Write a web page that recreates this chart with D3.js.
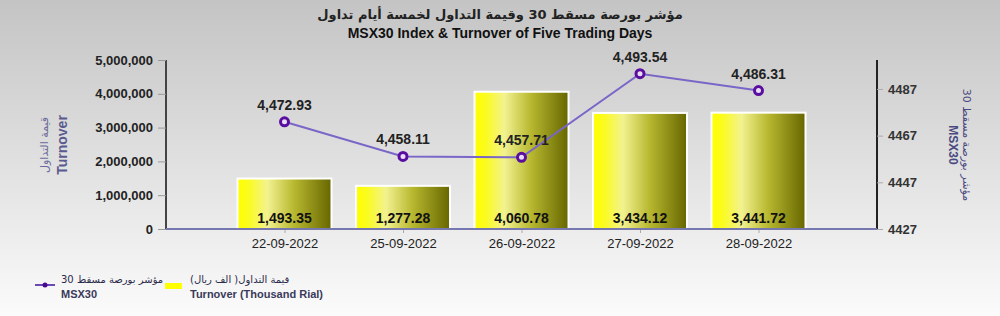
<!DOCTYPE html>
<html>
<head>
<meta charset="utf-8">
<script src="https://cdn.jsdelivr.net/npm/d3@7"></script>
<style>
  body { margin: 0; }
  svg { display: block; font-family: "Liberation Sans", Arial, sans-serif; }
</style>
</head>
<body>
<div id="chart"></div>
<script>
"use strict";
const width = 1000; // px
const height = 316; // px
const margin = {top: 60, right: 123, bottom: 87, left: 166}; // px

const dates = ["22-09-2022", "25-09-2022", "26-09-2022", "27-09-2022", "28-09-2022"];
const turnover = [1493.35, 1277.28, 4060.78, 3434.12, 3441.72]; // thousand rial
const msx30 = [4472.93, 4458.11, 4457.71, 4493.54, 4486.31];
const leftTicks = [0, 1000000, 2000000, 3000000, 4000000, 5000000];
const rightTicks = [4427, 4447, 4467, 4487];

const svg = d3.select("#chart")
    .append("svg")
    .attr("width", width)
    .attr("height", height);

const defs = svg.append("defs");

const bg = defs.append("linearGradient")
    .attr("id", "bg")
    .attr("x1", 0).attr("y1", 0).attr("x2", 0).attr("y2", 1);
bg.append("stop").attr("offset", "0%").attr("stop-color", "#c4c4c4");
bg.append("stop").attr("offset", "100%").attr("stop-color", "#fbfbfb");

const barFill = defs.append("linearGradient")
    .attr("id", "barFill")
    .attr("x1", 0).attr("y1", 0).attr("x2", 1).attr("y2", 0);
barFill.append("stop").attr("offset", "0%").attr("stop-color", "#ffff00");
barFill.append("stop").attr("offset", "12%").attr("stop-color", "#fbfb20");
barFill.append("stop").attr("offset", "32%").attr("stop-color", "#f2f290");
barFill.append("stop").attr("offset", "60%").attr("stop-color", "#b8b830");
barFill.append("stop").attr("offset", "100%").attr("stop-color", "#666600");

svg.append("rect")
    .attr("width", width)
    .attr("height", height)
    .attr("fill", "url(#bg)");

const x0 = margin.left;
const x1 = width - margin.right;
const yBase = height - margin.bottom;

const x = d3.scalePoint().domain(dates).range([x0, x1]).padding(1);
const yLeft = d3.scaleLinear().domain([0, 5000000]).range([yBase, margin.top]);
const yRight = d3.scaleLinear().domain([4427, 4499.4]).range([yBase, margin.top]);

// titles
svg.append("text")
    .attr("x", 500).attr("y", 19)
    .attr("text-anchor", "middle")
    .attr("font-size", 13).attr("font-weight", "bold").attr("fill", "#222")
    .attr("font-family", "'DejaVu Sans', sans-serif")
    .text("مؤشر بورصة مسقط 30 وقيمة التداول لخمسة أيام تداول");
svg.append("text")
    .attr("x", 500).attr("y", 38)
    .attr("text-anchor", "middle")
    .attr("font-size", 14).attr("font-weight", "bold").attr("fill", "#111")
    .text("MSX30 Index & Turnover of Five Trading Days");

// bars
const barW = 94;
svg.append("g")
    .selectAll("rect")
    .data(turnover)
    .join("rect")
    .attr("x", (d, i) => x(dates[i]) - barW / 2)
    .attr("y", (d) => yLeft(d * 1000))
    .attr("width", barW)
    .attr("height", (d) => yBase - yLeft(d * 1000))
    .attr("fill", "url(#barFill)")
    .attr("stroke", "#ffffff")
    .attr("stroke-width", 2);

svg.append("g")
    .selectAll("text")
    .data(turnover)
    .join("text")
    .attr("x", (d, i) => x(dates[i]))
    .attr("y", yBase - 6)
    .attr("text-anchor", "middle")
    .attr("font-size", 14).attr("font-weight", "bold").attr("fill", "#111")
    .text((d) => d3.format(",.2f")(d));

// left axis
const gL = svg.append("g")
    .attr("transform", `translate(${x0},0)`)
    .call(d3.axisLeft(yLeft).tickValues(leftTicks).tickFormat(d3.format(",")).tickSize(8).tickPadding(5));
gL.select(".domain").attr("stroke", "#444").attr("stroke-width", 2).attr("d", `M0,${margin.top}V${yBase}`);
gL.selectAll(".tick line").attr("stroke", "#999");
gL.selectAll(".tick text")
    .attr("font-size", 13).attr("font-weight", "bold").attr("fill", "#222")
    .attr("font-family", "'Liberation Sans', Arial, sans-serif");

// right axis
const gR = svg.append("g")
    .attr("transform", `translate(${x1},0)`)
    .call(d3.axisRight(yRight).tickValues(rightTicks).tickFormat(d3.format("d")).tickSize(6).tickPadding(5));
gR.select(".domain").attr("stroke", "#222").attr("stroke-width", 2).attr("d", `M0,${margin.top}V${yBase}`);
gR.selectAll(".tick line").attr("stroke", "#aaa");
gR.selectAll(".tick text")
    .attr("font-size", 13).attr("font-weight", "bold").attr("fill", "#333")
    .attr("font-family", "'Liberation Sans', Arial, sans-serif");

// x axis
const gX = svg.append("g")
    .attr("transform", `translate(0,${yBase})`)
    .call(d3.axisBottom(x).tickSize(4).tickPadding(6));
gX.select(".domain").remove();
gX.selectAll(".tick line").attr("stroke", "#aaa");
gX.selectAll(".tick text")
    .attr("font-size", 13).attr("fill", "#222")
    .attr("font-family", "'Liberation Sans', Arial, sans-serif");

svg.append("line")
    .attr("x1", x0).attr("x2", x1)
    .attr("y1", yBase).attr("y2", yBase)
    .attr("stroke", "#7878b0").attr("stroke-width", 2);

// axis titles
svg.append("text")
    .attr("transform", `translate(48,145) rotate(-90)`)
    .attr("text-anchor", "middle")
    .attr("font-size", 11).attr("fill", "#6a6a9a")
    .attr("font-family", "'DejaVu Sans', sans-serif")
    .text("قيمة التداول");
svg.append("text")
    .attr("transform", `translate(67,145) rotate(-90)`)
    .attr("text-anchor", "middle")
    .attr("font-size", 14).attr("font-weight", "bold").attr("fill", "#5a5a90")
    .text("Turnover");
svg.append("text")
    .attr("transform", `translate(963,145) rotate(90)`)
    .attr("text-anchor", "middle")
    .attr("font-size", 11).attr("fill", "#4a4a80")
    .attr("font-family", "'DejaVu Sans', sans-serif")
    .text("مؤشر بورصة مسقط 30");
svg.append("text")
    .attr("transform", `translate(949,145) rotate(90)`)
    .attr("text-anchor", "middle")
    .attr("font-size", 12).attr("font-weight", "bold").attr("fill", "#4a4a80")
    .text("MSX30");

// msx30 line
const line = d3.line()
    .x((d, i) => x(dates[i]))
    .y((d) => yRight(d));

svg.append("path")
    .datum(msx30)
    .attr("fill", "none")
    .attr("stroke", "#7a66c8")
    .attr("stroke-width", 2)
    .attr("d", line);

svg.append("g")
    .selectAll("circle")
    .data(msx30)
    .join("circle")
    .attr("cx", (d, i) => x(dates[i]))
    .attr("cy", (d) => yRight(d))
    .attr("r", 4)
    .attr("fill", "#e8ddf4")
    .attr("stroke", "#5a0ea0")
    .attr("stroke-width", 3);

svg.append("g")
    .selectAll("text")
    .data(msx30)
    .join("text")
    .attr("x", (d, i) => x(dates[i]))
    .attr("y", (d) => yRight(d) - 12)
    .attr("text-anchor", "middle")
    .attr("font-size", 14).attr("font-weight", "bold").attr("fill", "#222")
    .text((d) => d3.format(",.2f")(d));

// legend
const legend = svg.append("g");
legend.append("line")
    .attr("x1", 35).attr("x2", 55).attr("y1", 285).attr("y2", 285)
    .attr("stroke", "#6a4ab8").attr("stroke-width", 2);
legend.append("circle")
    .attr("cx", 45).attr("cy", 285).attr("r", 2.5)
    .attr("fill", "#4a0a90");
legend.append("text")
    .attr("x", 61).attr("y", 283)
    .attr("font-size", 10).attr("fill", "#2a2a4a")
    .attr("font-family", "'DejaVu Sans', sans-serif")
    .text("مؤشر بورصة مسقط 30");
legend.append("text")
    .attr("x", 61).attr("y", 298)
    .attr("font-size", 11).attr("font-weight", "bold").attr("fill", "#3a3a5a")
    .text("MSX30");
legend.append("rect")
    .attr("x", 165).attr("y", 283).attr("width", 17).attr("height", 6)
    .attr("fill", "#ffff00");
legend.append("text")
    .attr("x", 190).attr("y", 283)
    .attr("font-size", 10).attr("fill", "#2a2a4a")
    .attr("font-family", "'DejaVu Sans', sans-serif")
    .text("قيمة التداول( الف ريال)");
legend.append("text")
    .attr("x", 190).attr("y", 298)
    .attr("font-size", 11).attr("font-weight", "bold").attr("fill", "#3a3a5a")
    .text("Turnover (Thousand Rial)");
</script>
</body>
</html>
